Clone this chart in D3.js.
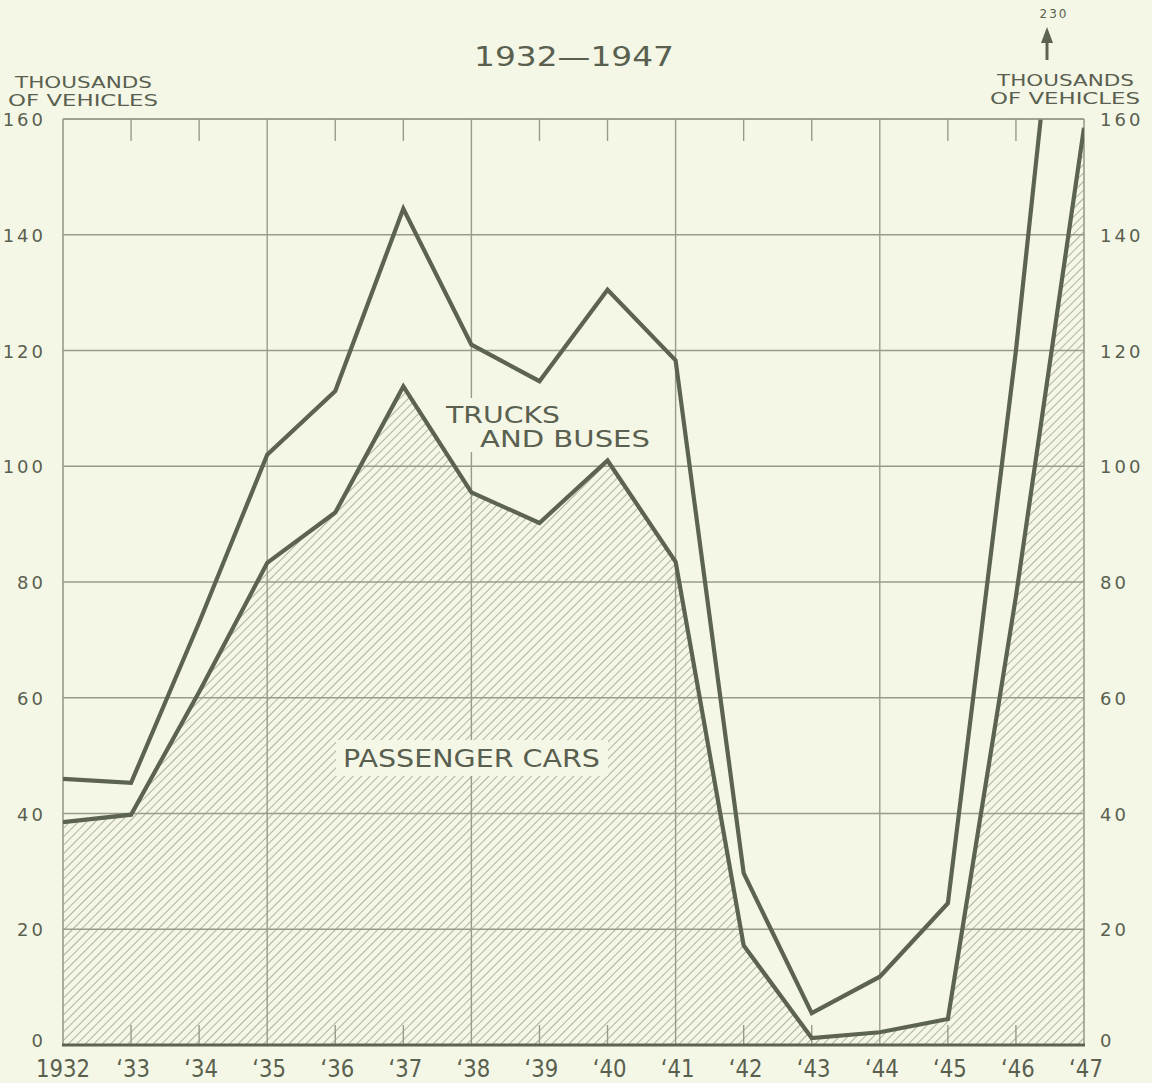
<!DOCTYPE html>
<html>
<head>
<meta charset="utf-8">
<script src="https://cdn.jsdelivr.net/npm/d3@7"></script>
<style>
  html, body { margin: 0; padding: 0; background: #f5f7e6; }
  svg { display: block; }
  text { font-family: "DejaVu Sans", sans-serif; fill: #596050; }
</style>
</head>
<body>
<div id="chart"></div>
<script>
// data (thousands of vehicles)
const years = [1932, 1933, 1934, 1935, 1936, 1937, 1938, 1939, 1940, 1941, 1942, 1943, 1944, 1945, 1946, 1947];
const passengerCars = [38.5, 39.8, 61, 83.3, 92, 113.8, 95.5, 90.2, 101, 83.5, 17.2, 1.2, 2.2, 4.5, 77.5, 158.5];
const totalVehicles = [46, 45.3, 73, 102, 113, 144.5, 121, 114.7, 130.5, 118.3, 29.7, 5.5, 11.8, 24.5, 120, 230];
const yTicks = [0, 20, 40, 60, 80, 100, 120, 140, 160];
const gridYears = [1935, 1938, 1941, 1944];
const yearLabels = ["1932", "‘33", "‘34", "‘35", "‘36", "‘37", "‘38", "‘39", "‘40", "‘41", "‘42", "‘43", "‘44", "‘45", "‘46", "‘47"];

const W = 1152, H = 1083;
const pLeft = 63, pRight = 1084, pTop = 119, pBottom = 1045;
const ink = "#5c634f", grid = "#979c8a";

const svg = d3.select("#chart").append("svg")
  .attr("width", W).attr("height", H);

svg.append("rect").attr("width", W).attr("height", H).attr("fill", "#f5f7e6");

const x = d3.scaleLinear().domain([1932, 1947]).range([pLeft, pRight]);
const y = d3.scaleLinear().domain([0, 160]).range([pBottom, pTop]);

// hatch pattern
const defs = svg.append("defs");
const pat = defs.append("pattern")
  .attr("id", "hatch")
  .attr("patternUnits", "userSpaceOnUse")
  .attr("width", 6).attr("height", 6)
  .attr("patternTransform", "rotate(45)");
pat.append("line")
  .attr("x1", 0).attr("y1", 0).attr("x2", 0).attr("y2", 6)
  .attr("stroke", "#737965").attr("stroke-width", 1.1);

defs.append("clipPath").attr("id", "plot")
  .append("rect").attr("x", pLeft).attr("y", pTop)
  .attr("width", pRight - pLeft).attr("height", pBottom - pTop);

// hatched passenger car area
const area = d3.area()
  .x((d, i) => x(years[i]))
  .y0(y(0))
  .y1(d => y(d));
svg.append("path")
  .datum(passengerCars)
  .attr("d", area)
  .attr("fill", "url(#hatch)")
  .attr("clip-path", "url(#plot)");

// grid
svg.append("g").selectAll("line")
  .data(yTicks.filter(d => d > 0))
  .join("line")
  .attr("x1", pLeft).attr("x2", pRight)
  .attr("y1", d => y(d)).attr("y2", d => y(d))
  .attr("stroke", grid).attr("stroke-width", 1.4);

svg.append("g").selectAll("line")
  .data(gridYears)
  .join("line")
  .attr("x1", d => x(d)).attr("x2", d => x(d))
  .attr("y1", pTop).attr("y2", pBottom)
  .attr("stroke", grid).attr("stroke-width", 1.4);

// frame sides
svg.append("g").selectAll("line")
  .data([1932, 1947])
  .join("line")
  .attr("x1", d => x(d)).attr("x2", d => x(d))
  .attr("y1", pTop).attr("y2", pBottom)
  .attr("stroke", grid).attr("stroke-width", 1.6);

// minor year ticks top and bottom
const minor = years.filter(d => d !== 1932 && d !== 1947 && !gridYears.includes(d));
svg.append("g").selectAll("line")
  .data(minor)
  .join("line")
  .attr("x1", d => x(d)).attr("x2", d => x(d))
  .attr("y1", pTop).attr("y2", pTop + 22)
  .attr("stroke", grid).attr("stroke-width", 1.4);
svg.append("g").selectAll("line")
  .data(minor)
  .join("line")
  .attr("x1", d => x(d)).attr("x2", d => x(d))
  .attr("y1", pBottom - 20).attr("y2", pBottom)
  .attr("stroke", grid).attr("stroke-width", 1.4);

// label plates (clear the hatch/grid behind the labels)
svg.append("rect").attr("x", 336).attr("y", 740).attr("width", 272).attr("height", 36).attr("fill", "#f5f7e6");
svg.append("rect").attr("x", 440).attr("y", 398).attr("width", 216).attr("height", 54).attr("fill", "#f5f7e6");

// lines
const line = d3.line()
  .x((d, i) => x(years[i]))
  .y(d => y(d));

const lines = svg.append("g").attr("clip-path", "url(#plot)");
[totalVehicles, passengerCars].forEach(s => {
  lines.append("path")
    .datum(s)
    .attr("d", line)
    .attr("fill", "none")
    .attr("stroke", ink)
    .attr("stroke-width", 4.2)
    .attr("stroke-linejoin", "miter");
});

// top and bottom frame
svg.append("line").attr("x1", pLeft).attr("x2", pRight).attr("y1", pTop).attr("y2", pTop)
  .attr("stroke", grid).attr("stroke-width", 1.4);
svg.append("line").attr("x1", pLeft - 1).attr("x2", pRight + 1).attr("y1", pBottom).attr("y2", pBottom)
  .attr("stroke", ink).attr("stroke-width", 3);

// y tick labels, both sides (the zero sits a little higher, clear of the years)
const labelY = d => y(d) + (d === 0 ? 2 : 7);
svg.append("g").selectAll("text")
  .data(yTicks)
  .join("text")
  .attr("x", 46).attr("y", labelY)
  .attr("text-anchor", "end")
  .attr("font-size", 18).attr("letter-spacing", 3)
  .text(d => d);
svg.append("g").selectAll("text")
  .data(yTicks)
  .join("text")
  .attr("x", 1100).attr("y", labelY)
  .attr("font-size", 18).attr("letter-spacing", 3)
  .text(d => d);

// x labels, drawn narrow like the hand lettering
svg.append("g").selectAll("text")
  .data(years)
  .join("text")
  .attr("x", 0).attr("y", 0)
  .attr("text-anchor", "middle")
  .attr("font-size", 25)
  .attr("transform", d => `translate(${x(d) + (d === 1932 ? 0 : 2)},1077) scale(0.85,1)`)
  .text((d, i) => yearLabels[i]);

// axis titles
const unitTitle = (xl, y1, y2) => {
  svg.append("text").attr("x", xl).attr("y", y1).attr("font-size", 15)
    .attr("textLength", 137).attr("lengthAdjust", "spacingAndGlyphs").text("THOUSANDS");
  svg.append("text").attr("x", xl - 7).attr("y", y2).attr("font-size", 15)
    .attr("textLength", 150).attr("lengthAdjust", "spacingAndGlyphs").text("OF VEHICLES");
};
unitTitle(15, 88, 106);
unitTitle(997, 86, 104);

// title
svg.append("text").attr("x", 574).attr("y", 66)
  .attr("text-anchor", "middle").attr("font-size", 27)
  .attr("textLength", 200).attr("lengthAdjust", "spacingAndGlyphs")
  .text("1932—1947");

// off-scale marker
svg.append("text").attr("x", 1054).attr("y", 18)
  .attr("text-anchor", "middle").attr("font-size", 12).attr("letter-spacing", 2)
  .text(totalVehicles[totalVehicles.length - 1]);
svg.append("path")
  .attr("d", "M1047,27 L1053,43 L1041,43 Z")
  .attr("fill", ink);
svg.append("line").attr("x1", 1047).attr("x2", 1047).attr("y1", 40).attr("y2", 60)
  .attr("stroke", ink).attr("stroke-width", 3);

// series labels
svg.append("text").attr("x", 343).attr("y", 767).attr("font-size", 25)
  .attr("textLength", 257).attr("lengthAdjust", "spacingAndGlyphs")
  .text("PASSENGER CARS");
svg.append("text").attr("x", 446).attr("y", 423).attr("font-size", 23)
  .attr("textLength", 114).attr("lengthAdjust", "spacingAndGlyphs")
  .text("TRUCKS");
svg.append("text").attr("x", 480).attr("y", 447).attr("font-size", 23)
  .attr("textLength", 170).attr("lengthAdjust", "spacingAndGlyphs")
  .text("AND BUSES");
</script>
</body>
</html>
